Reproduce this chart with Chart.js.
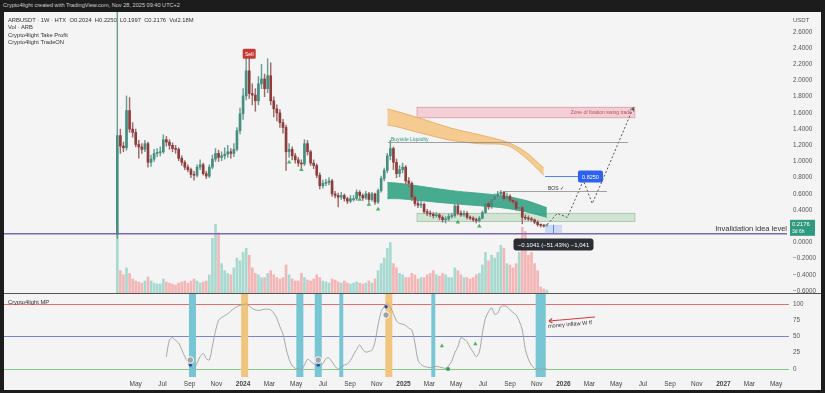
<!DOCTYPE html>
<html>
<head>
<meta charset="utf-8">
<script src="https://cdn.jsdelivr.net/npm/chart.js@4.4.1/dist/chart.umd.min.js"></script>
<style>
  html, body { margin:0; padding:0; background:#1c1c1c; }
  #wrap { position:relative; width:825px; height:393px; background:#1c1c1c; overflow:hidden; font-family:"Liberation Sans", Arial, sans-serif; }
  #hdr { position:absolute; left:3px; top:2px; font-size:5.6px; line-height:7px; color:#cfcfcf; white-space:nowrap; }
  #panel { position:absolute; left:4px; top:12px; width:817px; height:378px; background:#f4f4f4; }
  #cv { position:absolute; left:0; top:0; }
  .lg { position:absolute; left:4px; font-size:5.8px; line-height:7px; color:#333; white-space:nowrap; }
</style>
</head>
<body>
<div id="wrap">
  <div id="hdr">Crypto4light created with TradingView.com, Nov 28, 2025 09:40 UTC+2</div>
  <div id="panel">
    <canvas id="cv" width="817" height="378"></canvas>
    <div class="lg" style="top:4.5px">ARBUSDT · 1W · HTX &nbsp;O0.2024 &nbsp;H0.2250 &nbsp;L0.1997 &nbsp;C0.2176 &nbsp;Vol2.18M</div>
    <div class="lg" style="top:12.2px">Vol · ARB</div>
    <div class="lg" style="top:19.6px">Crypto4light Take Profit</div>
    <div class="lg" style="top:27.2px">Crypto4light TradeON</div>
    <div class="lg" style="top:286.5px">Crypto4light MP</div>
  </div>
</div>
<script>
// ---------------- DATA ----------------
// weekly candles, week 0 = 2023-03-20 (HTX ARBUSDT 1W)
const firstWeek = '2023-03-20';
const opens = [0.10,1.32,1.19,1.17,1.63,1.40,1.36,1.21,1.18,1.15,1.22,0.99,1.03,1.10,1.11,1.12,1.27,1.24,1.20,1.16,
  1.15,1.04,0.99,0.93,0.90,0.84,0.83,0.93,0.96,0.85,0.82,0.93,1.03,1.10,1.05,1.07,1.09,1.12,1.10,1.15,
  1.38,1.59,1.81,2.12,1.84,1.82,1.75,1.96,2.02,1.90,2.06,1.75,1.65,1.60,1.48,1.42,1.12,1.15,1.07,1.02,
  0.98,0.97,1.22,1.12,0.98,0.95,0.83,0.70,0.73,0.74,0.76,0.60,0.58,0.56,0.58,0.54,0.51,0.54,0.54,0.62,
  0.58,0.55,0.60,0.53,0.60,0.50,0.64,0.79,0.89,1.07,1.16,0.99,0.85,0.90,0.93,0.76,0.73,0.56,0.48,0.46,
  0.47,0.38,0.36,0.35,0.33,0.34,0.31,0.28,0.29,0.32,0.33,0.45,0.36,0.34,0.36,0.31,0.30,0.28,0.27,0.30,
  0.37,0.48,0.44,0.53,0.57,0.60,0.62,0.54,0.57,0.52,0.50,0.42,0.43,0.31,0.30,0.29,0.28,0.25,0.22,0.21,0.2024];
const closes = [1.32,1.19,1.17,1.63,1.40,1.36,1.21,1.18,1.15,1.22,0.99,1.03,1.10,1.11,1.12,1.27,1.24,1.20,1.16,1.15,
  1.04,0.99,0.93,0.90,0.84,0.83,0.93,0.96,0.85,0.82,0.93,1.03,1.10,1.05,1.07,1.09,1.12,1.10,1.15,1.38,
  1.59,1.81,2.12,1.84,1.82,1.75,1.96,2.02,1.90,2.06,1.75,1.65,1.60,1.48,1.42,1.12,1.15,1.07,1.02,0.98,
  0.97,1.22,1.12,0.98,0.95,0.83,0.70,0.73,0.74,0.76,0.60,0.58,0.56,0.58,0.54,0.51,0.54,0.54,0.62,0.58,
  0.55,0.60,0.53,0.60,0.50,0.64,0.79,0.89,1.07,1.16,0.99,0.85,0.90,0.93,0.76,0.73,0.56,0.48,0.46,0.47,
  0.38,0.36,0.35,0.33,0.34,0.31,0.28,0.29,0.32,0.33,0.45,0.36,0.34,0.36,0.31,0.30,0.28,0.27,0.30,0.37,
  0.48,0.44,0.53,0.57,0.60,0.62,0.54,0.57,0.52,0.50,0.42,0.43,0.31,0.30,0.29,0.28,0.25,0.22,0.21,0.2024,0.2176];
const highs = [3.20,1.40,1.24,1.81,1.79,1.48,1.40,1.26,1.22,1.26,1.24,1.08,1.15,1.16,1.18,1.33,1.31,1.27,1.23,1.20,
  1.17,1.07,1.01,0.96,0.92,0.88,0.96,1.02,0.98,0.88,0.96,1.08,1.16,1.14,1.12,1.17,1.20,1.16,1.22,1.42,
  1.66,1.90,2.28,2.33,1.96,1.90,2.05,2.20,2.08,2.27,2.22,1.80,1.70,1.64,1.52,1.45,1.22,1.18,1.10,1.05,
  1.02,1.27,1.26,1.14,1.02,0.97,0.86,0.77,0.78,0.80,0.78,0.63,0.61,0.62,0.60,0.56,0.58,0.58,0.65,0.64,
  0.60,0.63,0.62,0.62,0.61,0.66,0.82,0.92,1.10,1.26,1.18,1.03,0.95,0.98,0.95,0.80,0.75,0.58,0.52,0.51,
  0.49,0.41,0.39,0.37,0.37,0.36,0.33,0.32,0.35,0.36,0.50,0.47,0.39,0.39,0.38,0.33,0.32,0.30,0.32,0.39,
  0.50,0.50,0.55,0.60,0.63,0.64,0.63,0.61,0.59,0.54,0.52,0.46,0.45,0.34,0.33,0.31,0.29,0.27,0.23,0.22,0.2250];
const lows = [0.05,1.10,1.12,1.14,1.36,1.30,1.18,1.04,1.10,1.12,0.93,0.94,1.00,1.06,1.07,1.10,1.19,1.15,1.12,1.10,
  1.01,0.95,0.90,0.87,0.80,0.77,0.81,0.90,0.83,0.79,0.80,0.91,1.00,1.00,1.01,1.03,1.05,1.04,1.06,1.13,
  1.34,1.52,1.76,1.78,1.70,1.62,1.70,1.90,1.80,1.85,1.70,1.55,1.50,1.42,1.35,0.89,1.05,1.02,0.98,0.94,
  0.92,0.95,1.08,0.95,0.91,0.80,0.66,0.67,0.70,0.71,0.57,0.55,0.44,0.53,0.51,0.48,0.49,0.51,0.52,0.55,
  0.52,0.53,0.50,0.51,0.47,0.48,0.62,0.76,0.86,1.02,0.90,0.80,0.81,0.86,0.72,0.68,0.52,0.45,0.43,0.43,
  0.36,0.33,0.32,0.30,0.31,0.28,0.25,0.24,0.27,0.30,0.31,0.34,0.32,0.32,0.29,0.28,0.26,0.24,0.25,0.29,
  0.36,0.41,0.42,0.50,0.54,0.56,0.52,0.52,0.49,0.47,0.40,0.39,0.23,0.28,0.27,0.26,0.23,0.20,0.19,0.19,0.1997];
// weekly volume, millions of ARB
const volumes = [44,16,13,18,14,10,8.6,7.9,7.1,8.6,11.4,8.6,7.1,6.4,6.4,10,7.9,7.1,6.4,5.7,
  7.1,7.9,8.6,7.1,8.6,10,8.6,7.1,7.9,8.6,12.9,39,49,43,21,16,14,13,18,25,
  23,29,32,27,18,14,13,11,11,14,16,13,11,10,11,20,13,10,8.6,8.6,
  14,11,9.3,8.6,10,13,11,8.6,7.9,7.1,10,9.3,7.9,7.1,8.6,7.1,6.4,7.1,7.9,7.1,
  6.4,7.1,8.6,7.1,10,16,21,25,32,36,21,18,14,13,11,11,14,13,10,11,
  11,13,14,16,13,12,14,13,11,11,18,16,13,11,11,10,11,13,14,20,
  29,23,27,25,29,34,32,21,20,18,21,29,47,44,27,29,21,16,4.3,2.9,2.18];

// Crypto4light MP oscillator (0..100), first value at week 16
const oscStartWeek = 16;
const oscValues = [19,45,48,44,40,30,19,10,3,1,9,19,24,16,14,35,58,75,79,82,
  85,89,93,96,98,99,100,97,93,91,90,91,92,92,91,86,78,65,54,32,
  15,5,1,0,0,6,15,12,8,4,5,8,16,17,11,4,0,3,6,8,
  13,22,30,37,30,26,27,29,42,68,88,96,100,95,85,74,70,69,67,63,
  60,40,14,7,4,3,2,3,4,3,2,1,5,12,25,34,48,46,42,33,
  26,19,26,55,78,88,94,84,86,96,97,96,91,87,83,74,60,30,15,6,
  1,0,0,0,0];
// signal bands in the oscillator pane (week indices)
const tealSignalWeeks = [24,25,59,60,65,66,73,103,137,138,139];
const orangeSignalWeeks = [41,42,88,89];
// buy markers on price pane (week, price)
const buyMarkWeeks = [56,60,79,82,85,111,118];
const buyMarkPrices = [0.99,0.90,0.53,0.47,0.41,0.25,0.20];
// oscillator markers
const oscTriWeeks = [105.8,116.7];
const oscTriValues = [35.4,38.5];
const oscDotWeeks = [107.8];
const oscDotValues = [0];
const mpBlueWeeks = [23.8,65.5,87.6];
const mpBlueValues = [6.2,6.2,95.8];
const mpGrayWeeks = [23.8,65.5,87.6];
const mpGrayValues = [13.8,13.8,83];
// ribbons
const orangeRibbonWeeks = [88,91,99,109,118,127,133,139];
const orangeRibbonTop = [1.65,1.62,1.53,1.41,1.33,1.24,1.12,0.92];
const orangeRibbonBottom = [1.45,1.43,1.35,1.26,1.22,1.20,1.05,0.83];
const tealRibbonWeeks = [88,92,109,125,133,140];
const tealRibbonTop = [0.74,0.73,0.64,0.58,0.52,0.43];
const tealRibbonBottom = [0.54,0.54,0.48,0.43,0.38,0.31];
// projection path (week, price)
const projWeeks = [140.1,143.4,146.7,151.9,154.8,158.4,168.2];
const projPrices = [0.222,0.358,0.309,0.765,0.481,0.79,1.667];
// levels / zones  [week from, week to, price low, price high]
const pinkZone = [97.7,168.7,1.54,1.67];
const greenZone = [97.7,168.7,0.26,0.36];
const buysideLevel = [88.2,166.5,1.235];
const bosLevel = [125.7,159.6,0.63];
const targetLevel = [139.4,150.8,0.825];
const invalidationLevel = 0.107;
const lastPrice = 0.2176;
const measureBox = [139.4,144.9,0.113,0.2176];
const sellWeek = 43, sellPrice = 2.33;
// axis ticks
const priceTicks = [2.6,2.4,2.2,2.0,1.8,1.6,1.4,1.2,1.0,0.8,0.6,0.4,0.0,-0.2,-0.4,-0.6];
const oscTicks = [100,75,50,25,0];
const tickDates = ['2023-05-01','2023-07-01','2023-09-01','2023-11-01','2024-01-01','2024-03-01','2024-05-01','2024-07-01','2024-09-01','2024-11-01',
  '2025-01-01','2025-03-01','2025-05-01','2025-07-01','2025-09-01','2025-11-01','2026-01-01','2026-03-01','2026-05-01','2026-07-01',
  '2026-09-01','2026-11-01','2027-01-01','2027-03-01','2027-05-01'];
const tickLabels = ['May','Jul','Sep','Nov','2024','Mar','May','Jul','Sep','Nov','2025','Mar','May','Jul','Sep','Nov','2026','Mar','May','Jul','Sep','Nov','2027','Mar','May'];

// ---------------- LAYOUT CONSTANTS ----------------
const X_MIN = -36.93, X_MAX = 217.63;
const P_MIN = -0.6247, P_MAX = 2.847;
const O_MIN = -12.3, O_MAX = 116.9;
const VOL_TO_PRICE = 1.4 / 81;
const FONT = '"Liberation Sans", Arial, sans-serif';
const UP = '#468f80', DN = '#8e3d3d';

const wkOf = d => (Date.parse(d + 'T00:00:00Z') - Date.parse(firstWeek + 'T00:00:00Z')) / (7 * 864e5);
const tickWeeks = tickDates.map(wkOf);
const idx = closes.map((_, i) => i);
const isUp = i => closes[i] >= opens[i];
const noPad = s => { s.paddingTop = 0; s.paddingBottom = 0; s.paddingLeft = 0; s.paddingRight = 0; };

const annot = {
  id: 'annot',
  beforeDatasetsDraw(chart) {
    const {ctx, chartArea: ca, scales} = chart;
    const X = v => scales.x.getPixelForValue(v), Y = v => scales.y.getPixelForValue(v), O = v => scales.yOsc.getPixelForValue(v);
    ctx.save();
    for (const [z, f, s] of [[pinkZone, 'rgba(242,180,190,0.6)', 'rgba(214,130,145,0.85)'], [greenZone, 'rgba(180,214,184,0.55)', 'rgba(130,180,140,0.85)']]) {
      const x0 = X(z[0]), x1 = X(z[1]), y0 = Y(z[3]), y1 = Y(z[2]);
      ctx.fillStyle = f; ctx.fillRect(x0, y0, x1 - x0, y1 - y0);
      ctx.strokeStyle = s; ctx.lineWidth = 0.7; ctx.strokeRect(x0, y0, x1 - x0, y1 - y0);
    }
    for (const [v, c] of [[100, '#e07070'], [50, '#7a86c8'], [0, '#86c886']]) {
      const yy = Math.round(O(v)) + 0.5;
      ctx.strokeStyle = c; ctx.lineWidth = 1;
      ctx.beginPath(); ctx.moveTo(ca.left, yy); ctx.lineTo(ca.right + 4, yy); ctx.stroke();
    }
    ctx.restore();
  },
  afterDatasetsDraw(chart) {
    const {ctx, chartArea: ca, scales, width} = chart;
    const X = v => scales.x.getPixelForValue(v), Y = v => scales.y.getPixelForValue(v), O = v => scales.yOsc.getPixelForValue(v);
    const line = (a, b, c, d) => { ctx.beginPath(); ctx.moveTo(a, b); ctx.lineTo(c, d); ctx.stroke(); };
    const F = (s, w) => `${w || 'normal'} ${s}px ${FONT}`;
    ctx.save();
    // pane separator
    const sy = Math.round(scales.y.bottom) + 0.5;
    ctx.strokeStyle = '#555'; ctx.lineWidth = 1; line(0, sy, width, sy);
    // invalidation
    const iy = Y(invalidationLevel);
    ctx.strokeStyle = '#7b69b8'; ctx.lineWidth = 1.6; line(ca.left, iy, ca.right + 2, iy);
    ctx.fillStyle = '#333'; ctx.font = F(7.5); ctx.textAlign = 'right'; ctx.textBaseline = 'alphabetic';
    ctx.fillText('Invalidation idea level', ca.right + 2, iy - 3);
    // buyside liquidity
    const by = Math.round(Y(buysideLevel[2])) + 0.5;
    ctx.strokeStyle = '#8c8c8c'; ctx.lineWidth = 0.8; line(X(buysideLevel[0]), by, X(buysideLevel[1]), by);
    ctx.fillStyle = '#2f9a86'; ctx.font = F(5); ctx.textAlign = 'left';
    ctx.fillText('Buyside Liquidity', X(buysideLevel[0]) + 3, by - 2);
    // BOS
    const bsy = Math.round(Y(bosLevel[2])) + 0.5;
    ctx.strokeStyle = '#8c8c8c'; line(X(bosLevel[0]), bsy, X(bosLevel[1]), bsy);
    ctx.fillStyle = '#333'; ctx.font = F(5); ctx.textAlign = 'center';
    ctx.fillText('BOS ✓', X((bosLevel[0] + bosLevel[1]) / 2) + 1, bsy - 2);
    // target 0.8250
    const ty = Math.round(Y(targetLevel[2])) + 0.5;
    ctx.strokeStyle = '#2962ff'; ctx.lineWidth = 0.8; line(X(targetLevel[0]), ty, X(targetLevel[1]), ty);
    const tx = X(targetLevel[1]) - 2;
    ctx.fillStyle = '#2d62f0'; ctx.beginPath(); ctx.roundRect(tx, ty - 6, 25, 12, 2); ctx.fill();
    ctx.fillStyle = '#fff'; ctx.font = F(5.5); ctx.textAlign = 'center'; ctx.textBaseline = 'middle';
    ctx.fillText('0.8250', tx + 12.5, ty + 0.5);
    // zone text
    ctx.fillStyle = '#b4525e'; ctx.font = F(5); ctx.textAlign = 'right';
    ctx.fillText('Zone of fixation swing trade', X(pinkZone[1]) - 3, (Y(pinkZone[2]) + Y(pinkZone[3])) / 2);
    // measure box
    const mx0 = X(measureBox[0]), mx1 = X(measureBox[1]), my0 = Y(measureBox[3]), my1 = Y(measureBox[2]);
    ctx.fillStyle = 'rgba(160,185,240,0.45)'; ctx.fillRect(mx0, my0, mx1 - mx0, my1 - my0);
    ctx.strokeStyle = '#4a6fd0'; ctx.lineWidth = 0.8;
    const mxc = Math.round((mx0 + mx1) / 2) + 0.5; line(mxc, my0, mxc, my1);
    // measure tooltip
    const tcx = mxc, tcy = Y(-0.025);
    ctx.fillStyle = '#2a2d33'; ctx.beginPath(); ctx.roundRect(tcx - 40, tcy - 6, 80, 12, 3); ctx.fill();
    ctx.fillStyle = '#fff'; ctx.font = F(6); ctx.textAlign = 'center'; ctx.textBaseline = 'middle';
    ctx.fillText('\u22120.1041 (\u221251.43%) \u22121,041', tcx, tcy + 0.5);
    // sell label
    const sx = X(sellWeek), syy = Y(sellPrice);
    ctx.fillStyle = '#c53a32'; ctx.beginPath(); ctx.roundRect(sx - 6.5, syy - 5, 13, 10, 1.5); ctx.fill();
    ctx.fillStyle = '#fff'; ctx.font = F(5.2); ctx.fillText('Sell', sx, syy + 0.5);
    // last price label
    const ly = Y(lastPrice) + 3;
    ctx.fillStyle = '#2f9a7e'; ctx.fillRect(ca.right + 5, ly - 8, 25, 16);
    ctx.fillStyle = '#fff'; ctx.font = F(5.8); ctx.textAlign = 'left';
    ctx.fillText('0.2176', ca.right + 7, ly - 3.5);
    ctx.font = F(5); ctx.fillText('3d 6h', ca.right + 7, ly + 3.5);
    // USDT
    ctx.fillStyle = '#555'; ctx.font = F(6); ctx.fillText('USDT', ca.right + 8, 8);
    // projection arrow head
    const n = projWeeks.length;
    const ax = X(projWeeks[n - 1]), ay = Y(projPrices[n - 1]);
    const bx = X(projWeeks[n - 2]), byy = Y(projPrices[n - 2]);
    const ang = Math.atan2(ay - byy, ax - bx);
    ctx.strokeStyle = '#444'; ctx.lineWidth = 0.9;
    line(ax, ay, ax - 4 * Math.cos(ang - 0.5), ay - 4 * Math.sin(ang - 0.5));
    line(ax, ay, ax - 4 * Math.cos(ang + 0.5), ay - 4 * Math.sin(ang + 0.5));
    // money inflow arrow
    const r0x = X(155.7), r0y = O(80), r1x = X(140.7), r1y = O(73.8);
    ctx.strokeStyle = '#d63a3a'; ctx.lineWidth = 1.1; line(r0x, r0y, r1x, r1y);
    const ra = Math.atan2(r1y - r0y, r1x - r0x);
    line(r1x, r1y, r1x - 4 * Math.cos(ra - 0.6), r1y - 4 * Math.sin(ra - 0.6));
    line(r1x, r1y, r1x - 4 * Math.cos(ra + 0.6), r1y - 4 * Math.sin(ra + 0.6));
    ctx.save();
    ctx.translate(X(140.4), O(65.5)); ctx.rotate(-0.09);
    ctx.fillStyle = '#333'; ctx.font = F(5.6); ctx.textAlign = 'left'; ctx.textBaseline = 'middle';
    ctx.fillText('money inflaw W tf', 0, 0);
    ctx.restore();
    ctx.restore();
  }
};

const fullOsc = w => ({x: w, y: [O_MIN, O_MAX]});

new Chart(document.getElementById('cv'), {
  type: 'bar',
  data: {
    datasets: [
      { type: 'line', label: 'proj', yAxisID: 'y', order: 0,
        data: projWeeks.map((w, i) => ({x: w, y: projPrices[i]})),
        borderColor: '#444', borderWidth: 0.9, borderDash: [2, 2], pointRadius: 0, pointHoverRadius: 0, fill: false, tension: 0 },
      { type: 'line', label: 'buy', yAxisID: 'y', order: 1, showLine: false,
        data: buyMarkWeeks.map((w, i) => ({x: w, y: buyMarkPrices[i]})),
        pointStyle: 'triangle', pointRadius: 2.6, pointHoverRadius: 0, backgroundColor: '#4caf63', borderWidth: 0 },
      { type: 'line', label: 'oscTri', yAxisID: 'yOsc', order: 1, showLine: false,
        data: oscTriWeeks.map((w, i) => ({x: w, y: oscTriValues[i]})),
        pointStyle: 'triangle', pointRadius: 2.4, pointHoverRadius: 0, backgroundColor: '#4caf63', borderWidth: 0 },
      { type: 'line', label: 'oscDot', yAxisID: 'yOsc', order: 1, showLine: false,
        data: oscDotWeeks.map((w, i) => ({x: w, y: oscDotValues[i]})),
        pointRadius: 2, pointHoverRadius: 0, backgroundColor: '#3f9a4f', borderWidth: 0 },
      { type: 'line', label: 'mpGray', yAxisID: 'yOsc', order: 1, showLine: false,
        data: mpGrayWeeks.map((w, i) => ({x: w, y: mpGrayValues[i]})),
        pointRadius: 3.3, pointHoverRadius: 0, backgroundColor: '#a3a3a3', borderColor: '#ffffff', borderWidth: 1 },
      { type: 'line', label: 'mpBlue', yAxisID: 'yOsc', order: 1, showLine: false,
        data: mpBlueWeeks.map((w, i) => ({x: w, y: mpBlueValues[i]})),
        pointRadius: 1.8, pointHoverRadius: 0, backgroundColor: '#2a4fb0', borderWidth: 0 },
      { label: 'bodies', yAxisID: 'y', order: 2, grouped: false, barThickness: 2, minBarLength: 1,
        data: idx.map(i => ({x: i, y: [opens[i], closes[i]]})),
        backgroundColor: idx.map(i => isUp(i) ? UP : DN), borderWidth: 0 },
      { label: 'wicks', yAxisID: 'y', order: 3, grouped: false, barThickness: 0.8,
        data: idx.map(i => ({x: i, y: [lows[i], highs[i]]})),
        backgroundColor: idx.map(i => isUp(i) ? '#6a9e94' : '#a06a6a'), borderWidth: 0 },
      { type: 'line', label: 'osc', yAxisID: 'yOsc', order: 4,
        data: oscValues.map((v, k) => ({x: oscStartWeek + k, y: v})),
        borderColor: '#9aa29a', borderWidth: 0.9, pointRadius: 0, pointHoverRadius: 0, tension: 0.3, fill: false },
      { type: 'line', label: 'tealTop', yAxisID: 'y', order: 6,
        data: tealRibbonWeeks.map((w, i) => ({x: w, y: tealRibbonTop[i]})),
        borderColor: '#35a184', borderWidth: 0.8, pointRadius: 0, pointHoverRadius: 0, fill: false, tension: 0.3 },
      { type: 'line', label: 'tealBot', yAxisID: 'y', order: 6,
        data: tealRibbonWeeks.map((w, i) => ({x: w, y: tealRibbonBottom[i]})),
        borderColor: '#35a184', borderWidth: 0.8, pointRadius: 0, pointHoverRadius: 0, fill: '-1', backgroundColor: 'rgba(52,163,132,0.9)', tension: 0.3 },
      { type: 'line', label: 'orTop', yAxisID: 'y', order: 6,
        data: orangeRibbonWeeks.map((w, i) => ({x: w, y: orangeRibbonTop[i]})),
        borderColor: '#e3a65c', borderWidth: 0.8, pointRadius: 0, pointHoverRadius: 0, fill: false, tension: 0.3 },
      { type: 'line', label: 'orBot', yAxisID: 'y', order: 6,
        data: orangeRibbonWeeks.map((w, i) => ({x: w, y: orangeRibbonBottom[i]})),
        borderColor: '#e3a65c', borderWidth: 0.8, pointRadius: 0, pointHoverRadius: 0, fill: '-1', backgroundColor: 'rgba(246,198,134,0.9)', tension: 0.3 },
      { label: 'volume', yAxisID: 'y', order: 8, grouped: false, barThickness: 2,
        data: idx.map(i => ({x: i, y: [P_MIN, P_MIN + volumes[i] * VOL_TO_PRICE]})),
        backgroundColor: idx.map(i => isUp(i) ? '#a7d9d1' : '#f3b6b6'), borderWidth: 0 },
      { label: 'tealBands', yAxisID: 'yOsc', order: 9, grouped: false, barThickness: 3.3,
        data: tealSignalWeeks.map(fullOsc), backgroundColor: '#78c6d4', borderWidth: 0 },
      { label: 'orangeBands', yAxisID: 'yOsc', order: 9, grouped: false, barThickness: 3.3,
        data: orangeSignalWeeks.map(fullOsc), backgroundColor: '#f2c57e', borderWidth: 0 }
    ]
  },
  options: {
    responsive: false, animation: false, devicePixelRatio: 1,
    layout: { padding: 0, autoPadding: false },
    plugins: { legend: { display: false }, tooltip: { enabled: false } },
    scales: {
      x: {
        type: 'linear', min: X_MIN, max: X_MAX, offset: false, bounds: 'data',
        grid: { display: false, drawTicks: false, offset: false }, border: { display: false },
        afterBuildTicks: s => { s.ticks = tickWeeks.map(v => ({value: v})); },
        afterFit: s => { s.height = 13; noPad(s); },
        ticks: {
          autoSkip: false, maxRotation: 0, padding: 3, color: '#444',
          font: c => ({ family: FONT, size: 6.5, weight: /^\d{4}$/.test(tickLabels[c.index] || '') ? 'bold' : 'normal' }),
          callback: (v, i) => tickLabels[i]
        }
      },
      y: {
        type: 'linear', position: 'right', stack: 'panes', stackWeight: 281, min: P_MIN, max: P_MAX,
        grid: { display: false, drawTicks: false }, border: { display: false },
        afterBuildTicks: s => { s.ticks = priceTicks.map(v => ({value: v})); },
        afterFit: s => { s.width = 36; noPad(s); },
        ticks: { autoSkip: false, padding: 8, color: '#555', font: { family: FONT, size: 6.3 },
          callback: v => (v < 0 ? '\u2212' : '') + Math.abs(v).toFixed(4) }
      },
      yOsc: {
        type: 'linear', position: 'right', stack: 'panes', stackWeight: 84, min: O_MIN, max: O_MAX,
        grid: { display: false, drawTicks: false }, border: { display: false },
        afterBuildTicks: s => { s.ticks = oscTicks.map(v => ({value: v})); },
        afterFit: s => { s.width = 36; noPad(s); },
        ticks: { autoSkip: false, padding: 8, color: '#555', font: { family: FONT, size: 6.3 },
          callback: v => String(v) }
      }
    }
  },
  plugins: [annot]
});
</script>
</body>
</html>
